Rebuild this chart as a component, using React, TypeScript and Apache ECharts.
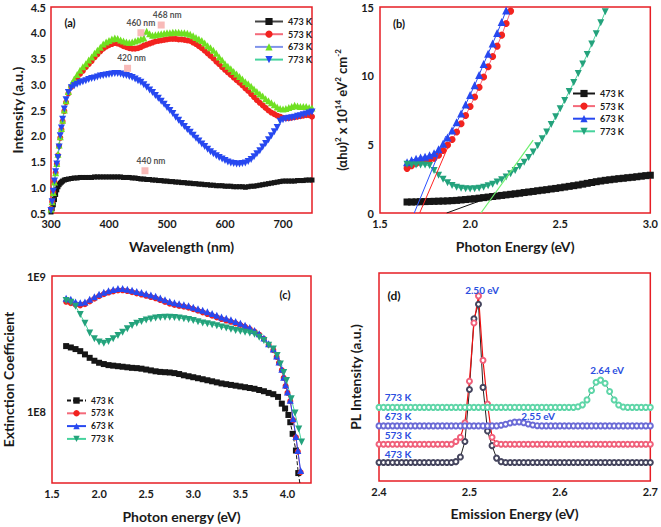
import React, { useEffect, useRef } from 'react';
import * as echarts from 'echarts';

const FONT = 'Lato, "Open Sans", Arial, sans-serif';

// ---------------- panel (a): PL/abs intensity vs wavelength ----------------
const waveA = [300, 302, 304, 306, 308, 310, 312, 314, 316, 318, 320, 323, 326, 330,
  335, 340, 345, 350, 355, 360, 365, 370, 375, 380,
  385, 390, 395, 400, 405, 410, 415, 420, 425, 430,
  435, 440, 445, 450, 455, 460, 465, 470, 475, 480,
  485, 490, 495, 500, 505, 510, 515, 520, 525, 530,
  535, 540, 545, 550, 555, 560, 565, 570, 575, 580,
  585, 590, 595, 600, 605, 610, 615, 620, 625, 630,
  635, 640, 645, 650, 655, 660, 665, 670, 675, 680,
  685, 690, 695, 700, 705, 710, 715, 720, 725, 730,
  735, 740, 745, 750];
const intA473 = [0.52, 0.58, 0.66, 0.76, 0.86, 0.95, 1.01, 1.05, 1.08, 1.10, 1.12, 1.14, 1.15, 1.16,
  1.17, 1.18, 1.18, 1.19, 1.19, 1.19, 1.19, 1.19, 1.20, 1.20,
  1.20, 1.20, 1.20, 1.20, 1.20, 1.20, 1.20, 1.20, 1.19, 1.19,
  1.19, 1.18, 1.18, 1.17, 1.16, 1.16, 1.15, 1.15, 1.14, 1.14,
  1.13, 1.13, 1.12, 1.12, 1.11, 1.11, 1.10, 1.10, 1.09, 1.09,
  1.08, 1.08, 1.07, 1.07, 1.06, 1.06, 1.05, 1.05, 1.04, 1.04,
  1.03, 1.03, 1.03, 1.02, 1.02, 1.02, 1.01, 1.01, 1.01, 1.01,
  1.00, 1.01, 1.02, 1.02, 1.03, 1.04, 1.05, 1.06, 1.07, 1.08,
  1.09, 1.10, 1.11, 1.12, 1.12, 1.12, 1.12, 1.12, 1.13, 1.13,
  1.13, 1.14, 1.14, 1.14];
const intA573 = [0.58, 0.72, 0.90, 1.10, 1.28, 1.45, 1.62, 1.80, 1.96, 2.12, 2.28, 2.48, 2.65, 2.82,
  2.95, 3.04, 3.12, 3.20, 3.26, 3.33, 3.39, 3.45, 3.52, 3.58,
  3.64, 3.69, 3.73, 3.76, 3.78, 3.80, 3.79, 3.77, 3.74, 3.72,
  3.70, 3.69, 3.69, 3.70, 3.72, 3.75, 3.77, 3.79, 3.81, 3.83,
  3.84, 3.85, 3.86, 3.87, 3.88, 3.88, 3.88, 3.87, 3.87, 3.86,
  3.85, 3.84, 3.81, 3.78, 3.74, 3.70, 3.65, 3.60, 3.55, 3.50,
  3.44, 3.39, 3.33, 3.28, 3.23, 3.18, 3.13, 3.08, 3.03, 2.98,
  2.92, 2.87, 2.81, 2.75, 2.69, 2.64, 2.59, 2.54, 2.49, 2.45,
  2.42, 2.39, 2.37, 2.35, 2.34, 2.34, 2.35, 2.36, 2.37, 2.38,
  2.39, 2.40, 2.40, 2.37];
const intA673 = [0.58, 0.72, 0.90, 1.10, 1.28, 1.46, 1.64, 1.82, 1.98, 2.14, 2.30, 2.50, 2.68, 2.86,
  3.00, 3.10, 3.19, 3.27, 3.34, 3.40, 3.47, 3.53, 3.60, 3.66,
  3.72, 3.78, 3.82, 3.85, 3.88, 3.90, 3.89, 3.86, 3.84, 3.82,
  3.81, 3.82, 3.84, 3.86, 3.88, 3.90, 4.03, 3.98, 3.95, 3.96,
  3.97, 3.98, 3.99, 4.00, 4.00, 4.01, 4.01, 4.01, 4.00, 4.00,
  3.99, 3.97, 3.94, 3.91, 3.88, 3.85, 3.80, 3.75, 3.71, 3.66,
  3.60, 3.53, 3.47, 3.40, 3.35, 3.30, 3.25, 3.20, 3.15, 3.10,
  3.05, 3.01, 2.96, 2.91, 2.86, 2.81, 2.77, 2.72, 2.68, 2.64,
  2.60, 2.56, 2.53, 2.52, 2.53, 2.55, 2.57, 2.59, 2.58, 2.57,
  2.57, 2.57, 2.55, 2.54];
const intA773 = [0.55, 0.72, 0.92, 1.12, 1.30, 1.45, 1.58, 1.78, 2.00, 2.15, 2.32, 2.52, 2.70, 2.84,
  2.93, 2.97, 3.00, 3.03, 3.05, 3.07, 3.09, 3.11, 3.12, 3.14,
  3.16, 3.17, 3.18, 3.19, 3.20, 3.21, 3.21, 3.20, 3.18, 3.17,
  3.15, 3.13, 3.10, 3.07, 3.04, 2.99, 2.94, 2.89, 2.84, 2.78,
  2.73, 2.67, 2.61, 2.55, 2.49, 2.43, 2.36, 2.30, 2.24, 2.18,
  2.12, 2.07, 2.01, 1.95, 1.90, 1.84, 1.79, 1.74, 1.69, 1.65,
  1.61, 1.58, 1.55, 1.52, 1.49, 1.47, 1.46, 1.45, 1.45, 1.46,
  1.47, 1.50, 1.54, 1.59, 1.65, 1.71, 1.78, 1.85, 1.92, 2.00,
  2.08, 2.16, 2.28, 2.31, 2.33, 2.34, 2.35, 2.36, 2.38, 2.39,
  2.41, 2.42, 2.44, 2.46];
const peakWave = [455, 490, 432, 462];
const peakInt = [4.0, 4.15, 3.31, 1.32];
const peakLabels = ['460 nm', '468 nm', '420 nm', '440 nm'];
const peakLabelOffsets = [[0, 0], [6, 0], [4, 0], [6, 0]];

// ---------------- panel (b): Tauc plot ----------------
const energyB = [1.650, 1.675, 1.700, 1.725, 1.750, 1.775, 1.800, 1.825, 1.850, 1.875,
  1.900, 1.925, 1.950, 1.975, 2.000, 2.025, 2.050, 2.075, 2.100, 2.125,
  2.150, 2.175, 2.200, 2.225, 2.250, 2.275, 2.300, 2.325, 2.350, 2.375,
  2.400, 2.425, 2.450, 2.475, 2.500, 2.525, 2.550, 2.575, 2.600, 2.625,
  2.650, 2.675, 2.700, 2.725, 2.750, 2.775, 2.800, 2.825, 2.850, 2.875,
  2.900, 2.925, 2.950, 2.975, 3.000];
const absB473 = [0.80, 0.80, 0.81, 0.82, 0.83, 0.84, 0.85, 0.86, 0.87, 0.88,
  0.90, 0.92, 0.95, 0.98, 1.01, 1.04, 1.08, 1.12, 1.16, 1.20,
  1.24, 1.28, 1.32, 1.36, 1.40, 1.44, 1.49, 1.53, 1.57, 1.62,
  1.66, 1.70, 1.75, 1.79, 1.84, 1.89, 1.94, 1.99, 2.04, 2.10,
  2.16, 2.22, 2.28, 2.33, 2.38, 2.42, 2.46, 2.50, 2.53, 2.57,
  2.60, 2.64, 2.68, 2.72, 2.75];
const absB573 = [3.25, 3.45, 3.60, 3.75, 3.85, 3.90, 3.98, 4.20, 4.55, 4.95,
  5.35, 5.90, 6.50, 7.10, 7.75, 8.45, 9.15, 9.90, 10.65, 11.40,
  12.15, 12.95, 13.80, 14.70];
const absB673 = [3.70, 3.85, 3.95, 4.05, 4.10, 4.20, 4.35, 4.65, 5.05, 5.50,
  6.00, 6.60, 7.25, 7.90, 8.60, 9.30, 10.05, 10.85, 11.60, 12.35,
  13.10, 13.90, 14.75];
const absB773 = [3.55, 3.50, 3.50, 3.50, 3.50, 3.45, 3.10, 2.75, 2.45, 2.20,
  2.00, 1.88, 1.80, 1.76, 1.75, 1.76, 1.80, 1.88, 1.98, 2.10,
  2.25, 2.42, 2.62, 2.85, 3.10, 3.38, 3.70, 4.05, 4.45, 4.90,
  5.40, 5.90, 6.45, 7.00, 7.60, 8.20, 8.85, 9.50, 10.15, 10.85,
  11.55, 12.30, 13.05, 13.85, 14.65];
const fitE473 = [1.87, 2.10];
const fitA473 = [0, 1.1];
const fitE573 = [1.72, 1.88];
const fitA573 = [0, 4.9];
const fitE673 = [1.69, 1.865];
const fitA673 = [0, 5.6];
const fitE773 = [2.06, 2.35];
const fitA773 = [0, 5.3];

// ---------------- panel (c): extinction coefficient ----------------
const energyC = [1.65, 1.70, 1.75, 1.80, 1.85, 1.90, 1.95, 2.00, 2.05, 2.10,
  2.15, 2.20, 2.25, 2.30, 2.35, 2.40, 2.45, 2.50, 2.55, 2.60,
  2.65, 2.70, 2.75, 2.80, 2.85, 2.90, 2.95, 3.00, 3.05, 3.10,
  3.15, 3.20, 3.25, 3.30, 3.35, 3.40, 3.45, 3.50, 3.55, 3.60,
  3.65, 3.70, 3.75, 3.80];
const extC473 = [3.05e8, 2.98e8, 2.9e8, 2.8e8, 2.65e8, 2.5e8, 2.38e8, 2.3e8, 2.25e8, 2.21e8,
  2.19e8, 2.17e8, 2.15e8, 2.13e8, 2.11e8, 2.1e8, 2.08e8, 2.05e8, 2.02e8, 1.99e8,
  1.97e8, 1.96e8, 1.95e8, 1.93e8, 1.9e8, 1.86e8, 1.83e8, 1.8e8, 1.77e8, 1.74e8,
  1.71e8, 1.68e8, 1.65e8, 1.62e8, 1.6e8, 1.58e8, 1.56e8, 1.54e8, 1.52e8, 1.5e8,
  1.48e8, 1.45e8, 1.42e8, 1.38e8];
const extC573 = [6.46e8, 6.3e8, 6.15e8, 6.08e8, 6.2e8, 6.5e8, 6.8e8, 7.1e8, 7.35e8, 7.55e8,
  7.7e8, 7.82e8, 7.85e8, 7.75e8, 7.6e8, 7.45e8, 7.3e8, 7.15e8, 7.0e8, 6.85e8,
  6.65e8, 6.45e8, 6.25e8, 6.12e8, 6.02e8, 5.95e8, 5.85e8, 5.7e8, 5.55e8, 5.4e8,
  5.25e8, 5.1e8, 4.96e8, 4.82e8, 4.7e8, 4.6e8, 4.48e8, 4.36e8, 4.22e8, 4.07e8,
  3.9e8, 3.7e8, 3.45e8, 3.12e8];
const extC673 = [6.86e8, 6.75e8, 6.45e8, 6.35e8, 6.45e8, 6.75e8, 7.05e8, 7.35e8, 7.6e8, 7.8e8,
  7.95e8, 8.1e8, 8.1e8, 8.0e8, 7.85e8, 7.7e8, 7.55e8, 7.4e8, 7.25e8, 7.1e8,
  6.9e8, 6.7e8, 6.5e8, 6.35e8, 6.25e8, 6.15e8, 6.05e8, 5.9e8, 5.75e8, 5.6e8,
  5.45e8, 5.3e8, 5.15e8, 5.0e8, 4.88e8, 4.76e8, 4.63e8, 4.5e8, 4.35e8, 4.18e8,
  3.98e8, 3.76e8, 3.5e8, 3.17e8];
const extC773 = [6.6e8, 6.4e8, 6.0e8, 5.2e8, 4.5e8, 3.8e8, 3.45e8, 3.27e8, 3.2e8, 3.3e8,
  3.45e8, 3.65e8, 3.85e8, 4.1e8, 4.33e8, 4.5e8, 4.62e8, 4.75e8, 4.82e8, 4.9e8,
  4.95e8, 4.98e8, 4.98e8, 4.95e8, 4.9e8, 4.85e8, 4.78e8, 4.7e8, 4.6e8, 4.52e8,
  4.46e8, 4.38e8, 4.3e8, 4.22e8, 4.14e8, 4.05e8, 3.98e8, 3.92e8, 3.86e8, 3.8e8,
  3.72e8, 3.55e8, 3.35e8, 3.1e8];
const tailE473 = [3.85, 3.90, 3.94, 3.975, 4.01, 4.03, 4.055, 4.09, 4.115, 4.135];
const tailC473 = [1.35e8, 1.29e8, 1.15e8, 1.06e8, 9.5e7, 8.4e7, 6.9e7, 5.2e7, 3.55e7, 2.9e7];
const tailE573 = [3.85, 3.885, 3.91, 3.94, 3.96, 3.98, 4.0, 4.03, 4.06, 4.09, 4.11, 4.14];
const tailC573 = [2.85e8, 2.54e8, 2.3e8, 2.03e8, 1.78e8, 1.55e8, 1.38e8, 1.2e8, 8.7e7, 6.5e7, 5.1e7, 3.6e7];
const tailE673 = [3.85, 3.885, 3.91, 3.94, 3.96, 3.98, 4.0, 4.03, 4.06, 4.09, 4.11, 4.14];
const tailC673 = [2.9e8, 2.58e8, 2.33e8, 2.06e8, 1.8e8, 1.58e8, 1.4e8, 1.22e8, 8.9e7, 6.6e7, 5.2e7, 3.7e7];
const tailE773 = [3.85, 3.89, 3.925, 3.96, 3.99, 4.04, 4.08, 4.12, 4.15];
const tailC773 = [2.9e8, 2.6e8, 2.25e8, 1.95e8, 1.7e8, 1.25e8, 9.8e7, 7.5e7, 6.0e7];

// ---------------- panel (d): PL spectra (offset) ----------------
const energyD = [2.400, 2.405, 2.410, 2.415, 2.420, 2.425, 2.430, 2.435, 2.440, 2.445,
  2.450, 2.455, 2.460, 2.465, 2.470, 2.475, 2.480, 2.485, 2.490, 2.495,
  2.500, 2.505, 2.510, 2.515, 2.520, 2.525, 2.530, 2.535, 2.540, 2.545,
  2.550, 2.555, 2.560, 2.565, 2.570, 2.575, 2.580, 2.585, 2.590, 2.595,
  2.600, 2.605, 2.610, 2.615, 2.620, 2.625, 2.630, 2.635, 2.640, 2.645,
  2.650, 2.655, 2.660, 2.665, 2.670, 2.675, 2.680, 2.685, 2.690, 2.695,
  2.700];
const pl473 = [8.9, 8.9, 8.9, 8.9, 8.9, 8.9, 8.9, 8.9, 8.9, 8.9,
  8.9, 8.9, 8.9, 8.9, 8.9, 8.9, 8.9, 9.3, 11.5, 19,
  44, 78, 85, 45, 24, 17, 11, 9.3, 8.9, 8.9,
  8.9, 8.9, 8.9, 8.9, 8.9, 8.9, 8.9, 8.9, 8.9, 8.9,
  8.9, 8.9, 8.9, 8.9, 8.9, 8.9, 8.9, 8.9, 8.9, 8.9,
  8.9, 8.9, 8.9, 8.9, 8.9, 8.9, 8.9, 8.9, 8.9, 8.9,
  8.9];
const pl573 = [17.7, 17.7, 17.7, 17.7, 17.7, 17.7, 17.7, 17.7, 17.7, 17.7,
  17.7, 17.7, 17.7, 17.7, 17.7, 17.7, 17.7, 19, 21, 28,
  48, 76, 89, 58, 37, 21, 18, 17.7, 17.7, 17.7,
  17.7, 17.7, 17.7, 17.7, 17.7, 17.7, 17.7, 17.7, 17.7, 17.7,
  17.7, 17.7, 17.7, 17.7, 17.7, 17.7, 17.7, 17.7, 17.7, 17.7,
  17.7, 17.7, 17.7, 17.7, 17.7, 17.7, 17.7, 17.7, 17.7, 17.7,
  17.7];
const pl673 = [26.5, 26.5, 26.5, 26.5, 26.5, 26.5, 26.5, 26.5, 26.5, 26.5,
  26.5, 26.5, 26.5, 26.5, 26.5, 26.5, 26.5, 26.5, 26.5, 26.5,
  26.5, 26.5, 26.5, 26.5, 26.5, 26.5, 26.5, 26.8, 27.3, 27.9,
  28.3, 28.4, 28.0, 27.4, 26.9, 26.6, 26.5, 26.5, 26.5, 26.5,
  26.5, 26.5, 26.5, 26.5, 26.5, 26.5, 26.5, 26.5, 26.5, 26.5,
  26.5, 26.5, 26.5, 26.5, 26.5, 26.5, 26.5, 26.5, 26.5, 26.5,
  26.5];
const pl773 = [35.4, 35.4, 35.4, 35.4, 35.4, 35.4, 35.4, 35.4, 35.4, 35.4,
  35.4, 35.4, 35.4, 35.4, 35.4, 35.4, 35.4, 35.4, 35.4, 35.4,
  35.4, 35.4, 35.4, 35.4, 35.4, 35.4, 35.4, 35.4, 35.4, 35.4,
  35.4, 35.4, 35.4, 35.4, 35.4, 35.4, 35.4, 35.4, 35.4, 35.4,
  35.4, 35.4, 35.4, 35.4, 35.7, 36.6, 39, 43.5, 47.5, 48.5,
  47, 43, 39, 36.5, 35.6, 35.4, 35.4, 35.4, 35.4, 35.4,
  35.4];

// ---------------- styles ----------------
const BORDER = '#e61e25';
const nameStyle = { fontFamily: FONT, fontSize: 14, fontWeight: 'bold', color: '#1a1a1a' };
const labStyle = { fontFamily: FONT, fontSize: 11, fontWeight: 'bold', color: '#1a1a1a' };
const legendText = { fontFamily: FONT, fontSize: 9, fontWeight: 'bold', color: '#1a1a1a' };

const zip = (xs: number[], ys: number[]) => ys.map((y, i) => [xs[i], y]);

function ser(name: string, idx: number, data: number[][], o: any) {
  const st: any = { color: o.mark };
  if (o.bw) st.borderWidth = o.bw;
  return {
    type: 'line', name, xAxisIndex: idx, yAxisIndex: idx, data,
    symbol: o.symbol, symbolSize: o.size, symbolRotate: o.rotate || 0,
    showSymbol: o.symbol !== 'none', showAllSymbol: true,
    itemStyle: st,
    lineStyle: { color: o.line, width: o.lw ?? 1, type: o.dash || 'solid' },
    emphasis: { disabled: true }, silent: true, z: o.z || 2,
  };
}

function axisBase(idx: number) {
  return {
    gridIndex: idx, type: 'value', nameLocation: 'middle', nameTextStyle: nameStyle,
    axisLine: { show: false }, axisTick: { show: false }, splitLine: { show: false },
  };
}

const C = {
  black: '#161616', red: '#f2231f', pink: '#f46a7a', blue: '#2748f0', lblue: '#7f93ea',
  lime: '#6fe021', teal: '#24a27c', lgreen: '#46d39d',
};

const option: any = {
  animation: false,
  backgroundColor: '#ffffff',
  textStyle: { fontFamily: FONT },
  grid: [
    { left: 51, top: 7, width: 261, height: 206, show: true, borderColor: BORDER, borderWidth: 1.5 },
    { left: 380, top: 7, width: 272, height: 206, show: true, borderColor: BORDER, borderWidth: 1.5 },
    { left: 52, top: 276, width: 259, height: 207, show: true, borderColor: BORDER, borderWidth: 1.5 },
    { left: 379, top: 273, width: 274, height: 208, show: true, borderColor: BORDER, borderWidth: 1.5 },
  ],
  xAxis: [
    { ...axisBase(0), min: 300, max: 750, interval: 100, name: 'Wavelength (nm)', nameGap: 26,
      axisLabel: { ...labStyle, margin: 5, showMaxLabel: false } },
    { ...axisBase(1), min: 1.5, max: 3.0, interval: 0.5, name: 'Photon Energy (eV)', nameGap: 26,
      axisLabel: { ...labStyle, margin: 5, formatter: (v: number) => v.toFixed(1) } },
    { ...axisBase(2), min: 1.5, max: 4.25, interval: 0.5, name: 'Photon energy (eV)', nameGap: 26,
      axisLabel: { ...labStyle, margin: 5, showMaxLabel: false, formatter: (v: number) => v.toFixed(1) } },
    { ...axisBase(3), min: 2.4, max: 2.7, interval: 0.1, name: 'Emission Energy (eV)', nameGap: 25,
      axisLabel: { ...labStyle, margin: 5, formatter: (v: number) => v.toFixed(1) } },
  ],
  yAxis: [
    { ...axisBase(0), min: 0.5, max: 4.5, interval: 0.5, name: 'Intensity (a.u.)', nameGap: 27,
      axisLabel: { ...labStyle, margin: 5, formatter: (v: number) => v.toFixed(1) } },
    { ...axisBase(1), min: 0, max: 15, interval: 5, nameGap: 30,
      name: '(αhυ){s|2} x 10{s|14} eV{s|2} cm{s|-2}',
      nameTextStyle: { ...nameStyle, fontSize: 13, rich: {
        s: { fontFamily: FONT, fontSize: 8, fontWeight: 'bold', color: '#1a1a1a', verticalAlign: 'top', lineHeight: 16 },
      } },
      axisLabel: { ...labStyle, margin: 6 } },
    { ...axisBase(2), type: 'log', min: 3e7, max: 1e9, name: 'Extinction Coefficient', nameGap: 37,
      axisLabel: { ...labStyle, margin: 6, showMinLabel: false,
        formatter: (v: number) => {
          const e = Math.log10(v);
          return Math.abs(e - Math.round(e)) < 1e-6 ? '1E' + Math.round(e) : '';
        } } },
    { ...axisBase(3), min: 0, max: 100, name: 'PL Intensity (a.u.)', nameGap: 17,
      axisLabel: { show: false } },
  ],
  legend: [
    { orient: 'vertical', left: 254, top: 17, padding: 0, itemWidth: 28, itemHeight: 9, itemGap: 3.7,
      selectedMode: false, textStyle: legendText, formatter: (n: string) => n.slice(1),
      data: ['a473 K', 'a573 K', 'a673 K', 'a773 K'] },
    { orient: 'vertical', left: 572, top: 89, padding: 0, itemWidth: 22, itemHeight: 9, itemGap: 3.6,
      selectedMode: false, textStyle: legendText, formatter: (n: string) => n.slice(1),
      data: ['b473 K', 'b573 K', 'b673 K', 'b773 K'] },
    { orient: 'vertical', left: 66, top: 396, padding: 0, itemWidth: 19, itemHeight: 8, itemGap: 3.8,
      selectedMode: false, textStyle: { ...legendText, fontSize: 8.5 }, formatter: (n: string) => n.slice(1),
      data: ['c473 K', 'c573 K', 'c673 K', 'c773 K'] },
  ],
  graphic: [
    { type: 'text', x: 70, y: 22, style: { text: '(a)', fill: '#111', fontSize: 11, fontWeight: 'bold', fontFamily: FONT, align: 'center', verticalAlign: 'middle' } },
    { type: 'text', x: 399, y: 23, style: { text: '(b)', fill: '#111', fontSize: 11, fontWeight: 'bold', fontFamily: FONT, align: 'center', verticalAlign: 'middle' } },
    { type: 'text', x: 285, y: 294, style: { text: '(c)', fill: '#111', fontSize: 11, fontWeight: 'bold', fontFamily: FONT, align: 'center', verticalAlign: 'middle' } },
    { type: 'text', x: 394, y: 295, style: { text: '(d)', fill: '#111', fontSize: 12, fontWeight: 'bold', fontFamily: FONT, align: 'center', verticalAlign: 'middle' } },
    ...[
      ['2.50 eV', 482, 289.5], ['2.64 eV', 607, 369.5], ['2.55 eV', 538, 416],
      ['773 K', 398, 396.5], ['673 K', 398, 416], ['573 K', 398, 435], ['473 K', 398, 453.5],
    ].map(([t, x, y]) => ({
      type: 'text', x, y, z: 100,
      style: { text: t, fill: '#2b4fe0', fontSize: 10, fontWeight: 'bold', fontFamily: FONT, align: 'center', verticalAlign: 'middle' },
    })),
  ],
  series: [
    // (a)
    ser('a473 K', 0, zip(waveA, intA473), { symbol: 'rect', size: 5, mark: C.black, line: '#444' }),
    ser('a573 K', 0, zip(waveA, intA573), { symbol: 'circle', size: 6, mark: C.red, line: C.pink }),
    ser('a673 K', 0, zip(waveA, intA673), { symbol: 'triangle', size: 7, mark: C.lime, line: C.lblue }),
    ser('a773 K', 0, zip(waveA, intA773), { symbol: 'triangle', rotate: 180, size: 7, mark: C.blue, line: C.lgreen }),
    {
      type: 'scatter', name: 'peaks', xAxisIndex: 0, yAxisIndex: 0, symbol: 'rect', symbolSize: 7,
      itemStyle: { color: '#f6a9a6' }, silent: true, z: 10,
      data: peakWave.map((w, i) => ({
        value: [w, peakInt[i]],
        label: { show: true, position: 'top', distance: 2, offset: peakLabelOffsets[i], formatter: peakLabels[i],
          fontFamily: FONT, fontSize: 8.5, fontWeight: 'bold', color: '#222' },
      })),
    },
    // (b)
    ser('b473 K', 1, zip(energyB, absB473), { symbol: 'rect', size: 7, mark: C.black, line: C.black, z: 3 }),
    ser('b573 K', 1, zip(energyB, absB573), { symbol: 'circle', size: 7, mark: C.red, line: C.pink }),
    ser('b673 K', 1, zip(energyB, absB673), { symbol: 'triangle', size: 8, mark: C.blue, line: C.blue }),
    ser('b773 K', 1, zip(energyB, absB773), { symbol: 'triangle', rotate: 180, size: 7, mark: C.teal, line: C.lgreen }),
    ser('fit473', 1, zip(fitE473, fitA473), { symbol: 'none', line: '#111', lw: 1, z: 5 }),
    ser('fit573', 1, zip(fitE573, fitA573), { symbol: 'none', line: '#ff2222', lw: 1, z: 5 }),
    ser('fit673', 1, zip(fitE673, fitA673), { symbol: 'none', line: '#2a50ff', lw: 1, z: 5 }),
    ser('fit773', 1, zip(fitE773, fitA773), { symbol: 'none', line: '#6ef06e', lw: 1.2, z: 5 }),
    // (c)
    ser('c473 K', 2, zip([...energyC, ...tailE473], [...extC473, ...tailC473]), { symbol: 'rect', size: 6, mark: C.black, line: C.black, dash: [4, 2] }),
    ser('c573 K', 2, zip([...energyC, ...tailE573], [...extC573, ...tailC573]), { symbol: 'circle', size: 6, mark: C.red, line: C.pink }),
    ser('c673 K', 2, zip([...energyC, ...tailE673], [...extC673, ...tailC673]), { symbol: 'triangle', size: 7, mark: C.blue, line: C.blue }),
    ser('c773 K', 2, zip([...energyC, ...tailE773], [...extC773, ...tailC773]), { symbol: 'triangle', rotate: 180, size: 7, mark: C.teal, line: C.lgreen }),
    // (d)
    ser('d473 K', 3, zip(energyD, pl473), { symbol: 'emptyCircle', size: 5, mark: '#45455e', bw: 1, line: '#222', lw: 1 }),
    ser('d573 K', 3, zip(energyD, pl573), { symbol: 'emptyCircle', size: 5, mark: '#f0607a', bw: 1, line: '#ee1111', lw: 1.2 }),
    ser('d673 K', 3, zip(energyD, pl673), { symbol: 'emptyCircle', size: 5, mark: '#6b6bd6', bw: 1, line: '#6b6bd6', lw: 1 }),
    ser('d773 K', 3, zip(energyD, pl773), { symbol: 'emptyCircle', size: 5, mark: '#5fd6a8', bw: 1, line: '#27a37a', lw: 1 }),
  ],
};

export default function App() {
  const ref = useRef<HTMLDivElement>(null);
  useEffect(() => {
    const chart = echarts.init(ref.current!, null, { renderer: 'svg' });
    chart.setOption(option);
    return () => chart.dispose();
  }, []);
  return (
    <div
      ref={ref}
      style={{ position: 'fixed', left: 0, top: 0, width: 661, height: 527, background: '#fff' }}
    />
  );
}
